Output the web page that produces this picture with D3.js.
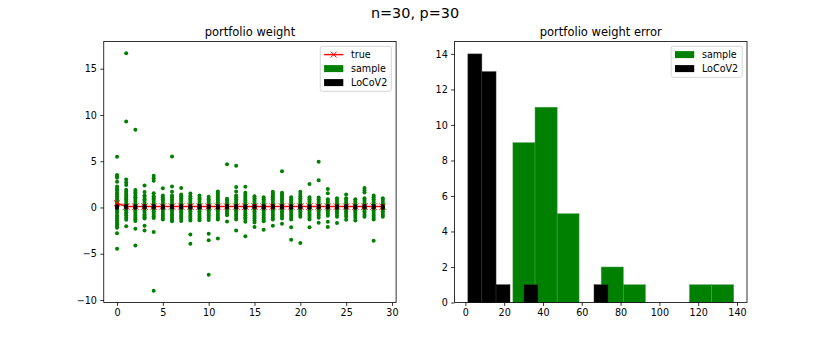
<!DOCTYPE html>
<html>
<head>
<meta charset="utf-8">
<script src="https://cdn.jsdelivr.net/npm/d3@7"></script>
<style>
  body { margin: 0; background: #fff; }
  text { font-family: "DejaVu Sans", sans-serif; fill: #000; }
</style>
</head>
<body>
<svg id="chart" width="830" height="346"></svg>
<script>
// portfolio weight estimates per asset index (one list per asset)
const sampleW = [
  [5.49, 3.52, 3.38, 3.2, 2.78, 2.26, 2.05, 1.85, 1.62, 1.44, 1.2, 1.02, 0.83, 0.6, 0.41, 0.22, 0.05, -0.18, -0.37, -0.55, -0.8, -0.98, -1.2, -1.38, -1.62, -1.8, -2.02, -2.2, -2.78, -4.45],
  [16.66, 9.3, 3.02, 2.7, 2.42, 1.92, 1.7, 1.48, 1.3, 1.08, 0.88, 0.7, 0.46, 0.28, 0.1, -0.12, -0.3, -0.52, -0.7, -0.88, -1.1, -1.32, -2.02],
  [8.4, 1.9, 1.68, 1.5, 1.28, 1.1, 0.92, 0.7, 0.48, 0.3, 0.12, -0.1, -0.32, -0.5, -0.68, -0.9, -1.08, -1.28, -1.45, -2.3, -4.1],
  [2.37, 1.66, 1.3, 1.12, 0.9, 0.72, 0.5, 0.28, 0.1, -0.12, -0.3, -0.5, -0.72, -0.9, -1.05, -1.2, -1.97, -2.5],
  [3.42, 3.15, 2.88, 1.55, 1.22, 1.0, 0.8, 0.62, 0.4, 0.2, 0.02, -0.2, -0.4, -0.6, -0.78, -0.98, -1.15, -2.65, -8.99],
  [2.09, 1.3, 1.1, 0.9, 0.72, 0.5, 0.3, 0.1, -0.1, -0.28, -0.5, -0.7, -0.9, -1.1, -1.3],
  [5.5, 2.26, 1.7, 1.3, 1.1, 0.9, 0.7, 0.5, 0.3, 0.1, -0.1, -0.3, -0.5, -0.7, -0.9, -1.1, -1.3, -1.5],
  [2.1, 1.4, 1.2, 1.0, 0.8, 0.6, 0.4, 0.2, 0.0, -0.2, -0.4, -0.6, -0.8, -1.0, -1.2, -1.45],
  [1.5, 1.2, 1.0, 0.8, 0.6, 0.4, 0.2, 0.0, -0.2, -0.4, -0.6, -0.8, -1.0, -1.2, -1.4, -2.92, -3.92],
  [1.3, 1.05, 0.85, 0.62, 0.4, 0.2, 0.0, -0.2, -0.4, -0.6, -0.8, -1.0, -1.2, -1.38],
  [1.15, 0.9, 0.7, 0.5, 0.3, 0.1, -0.1, -0.3, -0.5, -0.7, -0.9, -1.1, -1.35, -2.85, -3.55, -7.28],
  [1.72, 1.5, 1.3, 1.1, 0.9, 0.7, 0.5, 0.3, 0.1, -0.1, -0.3, -0.5, -0.7, -0.9, -1.1, -1.3, -3.35],
  [4.67, 0.95, 0.75, 0.55, 0.35, 0.15, -0.05, -0.25, -0.45, -0.65, -0.85, -1.52],
  [4.5, 2.2, 1.72, 1.3, 1.1, 0.9, 0.7, 0.5, 0.3, 0.1, -0.1, -0.3, -0.5, -0.7, -0.9, -1.1, -1.3, -2.48],
  [2.25, 1.6, 1.35, 1.15, 0.95, 0.75, 0.55, 0.35, 0.15, -0.05, -0.25, -0.45, -0.65, -0.85, -1.05, -1.25, -1.55, -3.1],
  [1.2, 1.0, 0.8, 0.6, 0.4, 0.2, 0.0, -0.2, -0.4, -0.6, -0.8, -1.0, -1.2, -1.42, -1.62, -2.12],
  [1.1, 0.9, 0.7, 0.5, 0.3, 0.1, -0.1, -0.3, -0.5, -0.7, -0.9, -1.1, -1.3, -1.5, -2.4],
  [1.7, 1.5, 1.3, 1.1, 0.9, 0.7, 0.5, 0.3, 0.1, -0.1, -0.3, -0.5, -0.7, -0.9, -1.1, -1.3, -1.97],
  [3.92, 1.6, 1.4, 1.2, 1.0, 0.8, 0.6, 0.4, 0.2, 0.0, -0.2, -0.4, -0.6, -0.8, -1.0, -1.2, -1.76],
  [1.1, 0.9, 0.7, 0.5, 0.3, 0.1, -0.1, -0.3, -0.5, -0.7, -0.9, -1.1, -1.3, -2.15, -3.48],
  [1.7, 1.45, 1.2, 1.0, 0.8, 0.6, 0.4, 0.2, 0.0, -0.2, -0.4, -0.6, -0.8, -1.0, -3.85],
  [2.55, 1.1, 0.9, 0.7, 0.5, 0.3, 0.1, -0.1, -0.3, -0.5, -0.7, -0.9, -1.1, -1.3, -2.15],
  [4.95, 2.95, 1.08, 0.9, 0.7, 0.5, 0.3, 0.1, -0.1, -0.3, -0.5, -0.7, -0.9, -1.1, -1.66],
  [2.0, 1.55, 0.9, 0.7, 0.5, 0.3, 0.1, -0.1, -0.3, -0.5, -0.7, -0.9, -1.55, -2.1],
  [1.0, 0.8, 0.6, 0.4, 0.2, 0.0, -0.2, -0.4, -0.6, -0.8, -1.0, -1.68],
  [1.4, 1.0, 0.8, 0.6, 0.4, 0.2, 0.0, -0.2, -0.4, -0.6, -0.8, -1.0, -1.32],
  [0.9, 0.7, 0.5, 0.3, 0.1, -0.1, -0.3, -0.5, -0.7, -0.9, -1.1, -1.42],
  [2.1, 1.85, 1.62, 1.0, 0.8, 0.6, 0.4, 0.2, 0.0, -0.2, -0.4, -0.6, -0.8, -1.0],
  [1.3, 1.1, 0.9, 0.7, 0.5, 0.3, 0.1, -0.1, -0.3, -0.5, -0.7, -0.9, -1.1, -1.3, -3.6],
  [1.0, 0.8, 0.6, 0.4, 0.2, 0.0, -0.2, -0.4, -0.6, -0.8, -1.0]
];
const locovW = [0.06, 0.07, 0.06, 0.07, 0.07, 0.06, 0.07, 0.07, 0.06, 0.07, 0.07, 0.06, 0.07, 0.07, 0.06,
                0.07, 0.06, 0.07, 0.07, 0.06, 0.07, 0.06, 0.07, 0.07, 0.06, 0.07, 0.06, 0.07, 0.07, 0.06];
const locovSpread = [-0.08, 0, 0.08];
const trueW = [0.45, 0.1, 0.1, 0.1, 0.1, 0.1, 0.1, 0.1, 0.1, 0.1, 0.1, 0.1, 0.1, 0.1, 0.1,
               0.1, 0.1, 0.1, 0.1, 0.1, 0.1, 0.1, 0.1, 0.1, 0.1, 0.1, 0.1, 0.1, 0.1, 0.1];

// portfolio weight error histograms
const sampleEdges = [24.5, 35.9, 47.3, 58.6, 70.0, 81.4, 92.8, 104.2, 115.5, 126.9, 138.3];
const sampleCounts = [9, 11, 5, 0, 2, 1, 0, 0, 1, 1];
const locovEdges = [1.3, 8.5, 15.8, 23.0, 30.2, 37.4, 44.6, 51.9, 59.1, 66.3, 73.5];
const locovCounts = [14, 13, 1, 0, 1, 0, 0, 0, 0, 1];

const leftTicksX = [0, 5, 10, 15, 20, 25, 30];
const leftTicksY = [-10, -5, 0, 5, 10, 15];
const rightTicksX = [0, 20, 40, 60, 80, 100, 120, 140];
const rightTicksY = [0, 2, 4, 6, 8, 10, 12, 14];

const GREEN = '#008000';
const svg = d3.select('#chart');
const axTop = 41.5, axBottom = 302.5;
const tickFont = 9.6;

function pad(ext) {
  const m = (ext[1] - ext[0]) * 0.05;
  return [ext[0] - m, ext[1] + m];
}

function frame(x0, x1, xs, ys, xt, yt, title) {
  const g = svg.append('g');
  const ax = d3.axisBottom(xs).tickValues(xt).tickSize(3.4).tickPadding(3.4).tickSizeOuter(0)
    .tickFormat(d3.format('d'));
  const gx = g.append('g').attr('transform', `translate(0,${axBottom})`).call(ax);
  const ay = d3.axisLeft(ys).tickValues(yt).tickSize(3.4).tickPadding(3.4).tickSizeOuter(0)
    .tickFormat(d3.format('d'));
  const gy = g.append('g').attr('transform', `translate(${x0},0)`).call(ay);
  [gx, gy].forEach(a => {
    a.select('.domain').remove();
    a.selectAll('line').attr('stroke', '#000').attr('stroke-width', 0.8);
    a.selectAll('text').attr('font-size', tickFont).attr('font-family', 'DejaVu Sans').attr('fill', '#000');
  });
  g.append('rect').attr('x', x0).attr('y', axTop).attr('width', x1 - x0).attr('height', axBottom - axTop)
    .attr('fill', 'none').attr('stroke', '#000').attr('stroke-width', 0.8);
  svg.append('text').attr('x', (x0 + x1) / 2).attr('y', 35.5).attr('text-anchor', 'middle')
    .attr('font-size', 11.5).text(title);
}

function legend(xRight, entries) {
  const w = 71, h = entries.length * 14 + 3;
  const g = svg.append('g').attr('transform', `translate(${xRight - w},${axTop + 4.8})`);
  g.append('rect').attr('width', w).attr('height', h).attr('rx', 2)
    .attr('fill', '#fff').attr('fill-opacity', 0.8).attr('stroke', '#ccc').attr('stroke-width', 0.8);
  entries.forEach((e, i) => {
    const cy = 8.3 + i * 14;
    if (e.type === 'line') {
      g.append('line').attr('x1', 3.8).attr('x2', 23).attr('y1', cy).attr('y2', cy)
        .attr('stroke', e.color).attr('stroke-width', 1.4);
      g.append('path').attr('d', `M${13.4 - 3},${cy - 3}L${13.4 + 3},${cy + 3}M${13.4 - 3},${cy + 3}L${13.4 + 3},${cy - 3}`)
        .attr('stroke', e.color).attr('stroke-width', 1);
    } else {
      g.append('rect').attr('x', 3.8).attr('y', cy - 3.5).attr('width', 19.2).attr('height', 7)
        .attr('fill', e.color);
    }
    g.append('text').attr('x', 30.7).attr('y', cy + 3.5).attr('font-size', tickFont).text(e.label);
  });
}

// suptitle
svg.append('text').attr('x', 415).attr('y', 18).attr('text-anchor', 'middle')
  .attr('font-size', 14.4).text('n=30, p=30');

// ---- left: portfolio weight ----
const L0 = 103.75, L1 = 396.1;
const xL = d3.scaleLinear().domain(pad([0, sampleW.length - 1])).range([L0, L1]);
const yL = d3.scaleLinear().domain(pad(d3.extent(sampleW.flat()))).range([axBottom, axTop]);

const pts = [];
sampleW.forEach((col, i) => col.forEach(v => pts.push({ i, v })));
const plotL = svg.append('g');
plotL.selectAll('circle.s').data(pts).enter().append('circle')
  .attr('cx', d => xL(d.i)).attr('cy', d => yL(d.v)).attr('r', 2).attr('fill', GREEN);

const line = d3.line().x((d, i) => xL(i)).y(d => yL(d));
plotL.append('path').datum(trueW).attr('d', line).attr('fill', 'none')
  .attr('stroke', 'red').attr('stroke-width', 1.5);
plotL.selectAll('path.x').data(trueW).enter().append('path')
  .attr('d', (d, i) => {
    const x = xL(i), y = yL(d), s = 3.2;
    return `M${x - s},${y - s}L${x + s},${y + s}M${x - s},${y + s}L${x + s},${y - s}`;
  })
  .attr('stroke', 'red').attr('stroke-width', 1);

const bpts = [];
locovW.forEach((v, i) => locovSpread.forEach(o => bpts.push({ i, v: v + o })));
plotL.selectAll('circle.b').data(bpts).enter().append('circle')
  .attr('cx', d => xL(d.i)).attr('cy', d => yL(d.v)).attr('r', 2).attr('fill', '#000');

frame(L0, L1, xL, yL, leftTicksX, leftTicksY, 'portfolio weight');
legend(L1 - 4.8, [
  { type: 'line', color: 'red', label: 'true' },
  { type: 'patch', color: GREEN, label: 'sample' },
  { type: 'patch', color: '#000', label: 'LoCoV2' }
]);

// ---- right: portfolio weight error ----
const R0 = 454.6, R1 = 747;
const allEdges = sampleEdges.concat(locovEdges);
const xR = d3.scaleLinear().domain(pad(d3.extent(allEdges))).range([R0, R1]);
const maxC = d3.max(sampleCounts.concat(locovCounts));
const yR = d3.scaleLinear().domain([0, maxC * 1.05]).range([axBottom, axTop]);

function bars(edges, counts, fill, edge) {
  const d = counts.map((c, i) => ({ x0: edges[i], x1: edges[i + 1], c })).filter(b => b.c > 0);
  svg.append('g').selectAll('rect').data(d).enter().append('rect')
    .attr('x', b => xR(b.x0)).attr('width', b => xR(b.x1) - xR(b.x0))
    .attr('y', b => yR(b.c)).attr('height', b => yR(0) - yR(b.c))
    .attr('fill', fill).attr('stroke', edge).attr('stroke-width', 0.5);
}
bars(sampleEdges, sampleCounts, GREEN, '#4ea24e');
bars(locovEdges, locovCounts, '#000', '#333');

frame(R0, R1, xR, yR, rightTicksX, rightTicksY, 'portfolio weight error');
legend(R1 - 4.8, [
  { type: 'patch', color: GREEN, label: 'sample' },
  { type: 'patch', color: '#000', label: 'LoCoV2' }
]);
</script>
</body>
</html>
